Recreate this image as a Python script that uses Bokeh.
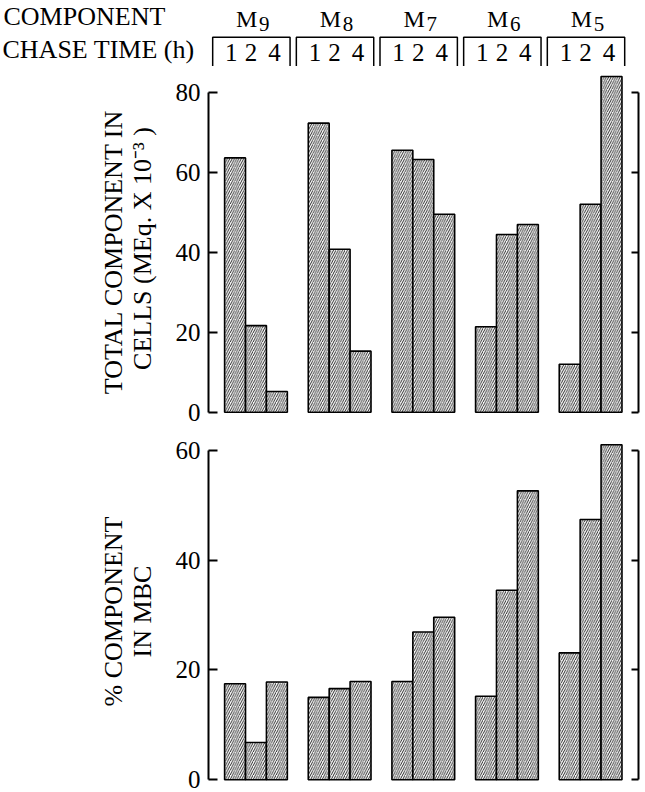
from bokeh.plotting import figure
from bokeh.layouts import column
from bokeh.models import Range1d, LinearAxis, FixedTicker, ColumnDataSource
from bokeh.core.properties import value
from bokeh.embed import file_html
from bokeh.resources import INLINE

# ---------------- data ----------------
components = ["9", "8", "7", "6", "5"]          # M9 ... M5
chase_times = ["1", "2", "4"]                    # hours

total_1h = [63.7, 72.4, 65.6, 21.4, 12.0]
total_2h = [21.7, 40.8, 63.3, 44.5, 52.1]
total_4h = [5.2, 15.3, 49.6, 47.0, 84.1]

mbc_1h = [17.5, 15.0, 17.9, 15.2, 23.1]
mbc_2h = [6.8, 16.6, 26.9, 34.5, 47.4]
mbc_4h = [17.8, 17.9, 29.6, 52.6, 61.0]

top_ticks = [0, 20, 40, 60, 80]
bottom_ticks = [0, 20, 40, 60]

top_label = "TOTAL  COMPONENT IN\nCELLS (MEq. X 10\u207B\u00B3 )"
bottom_label = "% COMPONENT\nIN MBC"

# ---------------- style ----------------
FONT = "Liberation Serif"
W = 645
XR = (-1.27, 19.29)
LEFT_BORDER = 208
RIGHT_BORDER = 7
PX_PER_UNIT = (W - LEFT_BORDER - RIGHT_BORDER) / (XR[1] - XR[0])


def bar_source(series):
    xs, tops = [], []
    for g in range(len(components)):
        for i, s in enumerate(series):
            xs.append(4 * g + i)
            tops.append(s[g])
    return ColumnDataSource(dict(x=xs, top=tops))


def panel(series, yr, ticks, label, height):
    p = figure(width=W, height=height, x_range=Range1d(*XR), y_range=Range1d(*yr),
               output_backend="svg", toolbar_location=None,
               x_axis_location=None,
               min_border_left=LEFT_BORDER, min_border_right=RIGHT_BORDER,
               min_border_top=0, min_border_bottom=0)
    p.frame_align = False
    p.outline_line_color = None
    p.grid.visible = False
    p.background_fill_color = "white"
    p.border_fill_color = "white"

    p.vbar(x="x", top="top", bottom=0, width=1.0, source=bar_source(series),
           fill_color="white", line_color="black", line_width=1.6,
           hatch_pattern="/", hatch_color="#111111", hatch_weight=0.9,
           hatch_scale=4.6)

    ax = p.yaxis[0]
    ax.ticker = FixedTicker(ticks=ticks)
    ax.bounds = (0, ticks[-1])
    ax.axis_line_width = 2
    ax.major_tick_line_width = 2
    ax.major_tick_in = 9
    ax.major_tick_out = 0
    ax.minor_tick_line_color = None
    ax.major_label_text_font = FONT
    ax.major_label_text_font_size = "25px"
    ax.major_label_text_color = "black"
    ax.major_label_standoff = 8
    ax.axis_label = label
    ax.axis_label_text_font = FONT
    ax.axis_label_text_font_size = "26px"
    ax.axis_label_text_font_style = "normal"
    ax.axis_label_text_color = "black"
    ax.axis_label_text_line_height = 1.0
    ax.axis_label_standoff = 16

    r = LinearAxis(ticker=FixedTicker(ticks=ticks), bounds=(0, ticks[-1]),
                   axis_line_width=2, major_tick_line_width=2,
                   major_tick_in=7, major_tick_out=0,
                   minor_tick_line_color=None,
                   major_label_text_font_size="1px", major_label_text_color=None,
                   major_label_standoff=0)
    p.add_layout(r, "right")
    return p


# ---------------- header ----------------
HH = 66
hx0 = XR[0] - LEFT_BORDER / PX_PER_UNIT
hx1 = XR[0] + (W - LEFT_BORDER) / PX_PER_UNIT
h = figure(width=W, height=HH, x_range=Range1d(hx0, hx1), y_range=Range1d(HH, 0),
           output_backend="svg", toolbar_location=None,
           x_axis_location=None, y_axis_location=None, min_border=0)
h.frame_align = False
h.outline_line_color = None
h.grid.visible = False

TXT = dict(text_font=value(FONT), text_baseline="middle", text_color="black")

h.text(x=[hx0 + 3 / PX_PER_UNIT], y=[16], text=["COMPONENT"],
       text_font_size="26px", text_align="left", **TXT)
h.text(x=[hx0 + 2 / PX_PER_UNIT], y=[49], text=["CHASE TIME (h)"],
       text_font_size="26px", text_align="left", **TXT)

centers = [4 * g + 1 for g in range(len(components))]
h.text(x=[c + 0.07 for c in centers], y=[18] * len(centers), text=["M"] * len(centers),
       text_font_size="24px", text_align="right", **TXT)
h.text(x=[c + 0.15 for c in centers], y=[23] * len(centers), text=components,
       text_font_size="21px", text_align="left", **TXT)

# brackets
bxs, bys = [], []
for g in range(len(components)):
    l, rr = 4 * g - 1.07, 4 * g + 2.63
    bxs.append([l, l, rr, rr])
    bys.append([66, 36.7, 36.7, 66])
h.multi_line(xs=bxs, ys=bys, line_color="black", line_width=1.5)

# chase-time labels
offs = [-0.18, 0.76, 1.88]
tx, tt = [], []
for g in range(len(components)):
    for i, t in enumerate(chase_times):
        tx.append(4 * g + offs[i])
        tt.append(t)
h.text(x=tx, y=[51.5] * len(tx), text=tt, text_font_size="25px",
       text_align="center", **TXT)

# ---------------- panels ----------------
p1 = panel([total_1h, total_2h, total_4h], (-4.58, 86.59), top_ticks, top_label, 364)
p2 = panel([mbc_1h, mbc_2h, mbc_4h], (-2.31, 63.59), bottom_ticks, bottom_label, 362)

layout = column(h, p1, p2, spacing=0)
open("out.html", "w").write(file_html(layout, INLINE))
